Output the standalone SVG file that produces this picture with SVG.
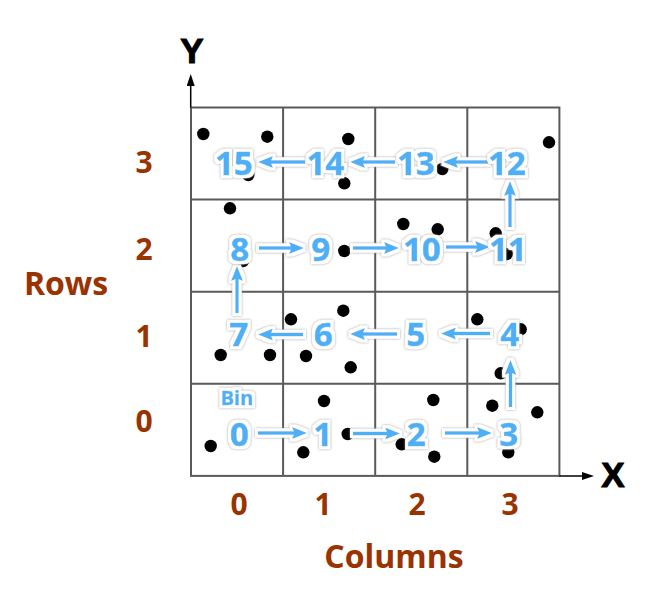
<svg xmlns="http://www.w3.org/2000/svg" width="671" height="603" viewBox="0 0 671 603">
<style>
.grid{stroke:#5a5a5a;stroke-width:2;fill:none}
.axis{stroke:#000;stroke-width:1.5;fill:none}
.dot{fill:#000}
.lbl{font-family:"Open Sans","Noto Sans",sans-serif;font-weight:bold;fill:#993300;text-anchor:middle}
.xy{font-family:"Liberation Sans",Arial,sans-serif;font-weight:bold;font-size:35px;fill:#000;stroke:#000;stroke-width:1;text-anchor:middle}
.num{font-family:"Open Sans","Noto Sans",sans-serif;font-weight:bold;font-size:33px;fill:#4db0f6;stroke:#4db0f6;stroke-width:0.6;text-anchor:middle}
.arrow{stroke:#4db0f6;stroke-width:3.4;fill:none}
</style>
<defs>
<filter id="halo" x="-30%" y="-30%" width="160%" height="160%">
<feMorphology in="SourceAlpha" operator="dilate" radius="2.5" result="d"/>
<feFlood flood-color="#ffffff" result="wf"/>
<feComposite in="wf" in2="d" operator="in" result="white"/>
<feMorphology in="SourceAlpha" operator="dilate" radius="3.2" result="d2"/>
<feGaussianBlur in="d2" stdDeviation="0.9" result="db"/>
<feFlood flood-color="#9a9a9a" result="gf"/>
<feComposite in="gf" in2="db" operator="in" result="shadow"/>
<feMerge><feMergeNode in="shadow"/><feMergeNode in="white"/><feMergeNode in="SourceGraphic"/></feMerge>
</filter>
<marker id="ah" markerUnits="userSpaceOnUse" viewBox="0 0 15 12" markerWidth="15" markerHeight="12" refX="4" refY="6" orient="auto">
<path d="M0,0 L15,6 L0,12 L2.5,6 Z" fill="#4db0f6"/>
</marker>
<marker id="axh" markerUnits="userSpaceOnUse" viewBox="0 0 12 8" markerWidth="12" markerHeight="8" refX="2" refY="4" orient="auto">
<path d="M0,0 L12,4 L0,8 Z" fill="#000"/>
</marker>
</defs>

<g id="grid">
<rect class="grid" x="191" y="107.5" width="368.4" height="368.4"/>
<path class="grid" d="M283.1,107.5 V475.9 M375.2,107.5 V475.9 M467.3,107.5 V475.9 M191,199.6 H559.4 M191,291.7 H559.4 M191,383.8 H559.4"/>
</g>

<g id="axes">
<path class="axis" d="M190.7,107.5 V84" marker-end="url(#axh)"/>
<path class="axis" d="M559.4,476 H584" marker-end="url(#axh)"/>
<text class="xy" x="192" y="63">Y</text>
<text class="xy" x="613" y="487">X</text>
</g>

<g id="axis-labels">
<text class="lbl" font-size="32" x="66" y="295">Rows</text>
<text class="lbl" font-size="32" x="394" y="568">Columns</text>
<text class="lbl" font-size="30" x="144" y="173">3</text>
<text class="lbl" font-size="30" x="144" y="260">2</text>
<text class="lbl" font-size="30" x="144" y="347">1</text>
<text class="lbl" font-size="30" x="144" y="432">0</text>
<text class="lbl" font-size="30" x="239" y="515">0</text>
<text class="lbl" font-size="30" x="323" y="515">1</text>
<text class="lbl" font-size="30" x="417" y="515">2</text>
<text class="lbl" font-size="30" x="510" y="515">3</text>
</g>

<g id="points">
<circle class="dot" cx="203.3" cy="134" r="6.2"/>
<circle class="dot" cx="267.3" cy="136.7" r="6.2"/>
<circle class="dot" cx="348.3" cy="139" r="6.2"/>
<circle class="dot" cx="248.3" cy="175" r="6.2"/>
<circle class="dot" cx="344.3" cy="183.3" r="6.2"/>
<circle class="dot" cx="442.3" cy="169" r="6.2"/>
<circle class="dot" cx="549" cy="142.3" r="6.2"/>
<circle class="dot" cx="230" cy="208.3" r="6.2"/>
<circle class="dot" cx="403.3" cy="224" r="6.2"/>
<circle class="dot" cx="437.7" cy="229.3" r="6.2"/>
<circle class="dot" cx="495.7" cy="233.3" r="6.2"/>
<circle class="dot" cx="506.7" cy="254" r="6.2"/>
<circle class="dot" cx="344.3" cy="251" r="6.2"/>
<circle class="dot" cx="243" cy="261" r="6.2"/>
<circle class="dot" cx="291" cy="319.3" r="6.2"/>
<circle class="dot" cx="343.3" cy="310.7" r="6.2"/>
<circle class="dot" cx="220.7" cy="355" r="6.2"/>
<circle class="dot" cx="270" cy="355" r="6.2"/>
<circle class="dot" cx="306" cy="356" r="6.2"/>
<circle class="dot" cx="350.7" cy="367.3" r="6.2"/>
<circle class="dot" cx="477.3" cy="319.3" r="6.2"/>
<circle class="dot" cx="520.7" cy="329.3" r="6.2"/>
<circle class="dot" cx="500.7" cy="373.3" r="6.2"/>
<circle class="dot" cx="324" cy="401" r="6.2"/>
<circle class="dot" cx="210.7" cy="446" r="6.2"/>
<circle class="dot" cx="303.3" cy="452.3" r="6.2"/>
<circle class="dot" cx="347.7" cy="434" r="6.2"/>
<circle class="dot" cx="433.3" cy="400" r="6.2"/>
<circle class="dot" cx="492.3" cy="405.7" r="6.2"/>
<circle class="dot" cx="537.3" cy="412.3" r="6.2"/>
<circle class="dot" cx="401.7" cy="444.3" r="6.2"/>
<circle class="dot" cx="434.3" cy="456.7" r="6.2"/>
<circle class="dot" cx="508.3" cy="452.3" r="6.2"/>
</g>

<g id="connectors" filter="url(#halo)">
<path class="arrow" d="M258,433 H296" marker-end="url(#ah)"/>
<path class="arrow" d="M353,433.5 H389" marker-end="url(#ah)"/>
<path class="arrow" d="M445,433 H481" marker-end="url(#ah)"/>
<path class="arrow" d="M510.5,407 V371" marker-end="url(#ah)"/>
<path class="arrow" d="M490,333.5 H452" marker-end="url(#ah)"/>
<path class="arrow" d="M397,334 H361" marker-end="url(#ah)"/>
<path class="arrow" d="M303,334.5 H269" marker-end="url(#ah)"/>
<path class="arrow" d="M237,313 V277" marker-end="url(#ah)"/>
<path class="arrow" d="M259,248 H293" marker-end="url(#ah)"/>
<path class="arrow" d="M353,248 H388" marker-end="url(#ah)"/>
<path class="arrow" d="M446,247 H479" marker-end="url(#ah)"/>
<path class="arrow" d="M510,227 V192" marker-end="url(#ah)"/>
<path class="arrow" d="M488,162 H454" marker-end="url(#ah)"/>
<path class="arrow" d="M395,162 H361" marker-end="url(#ah)"/>
<path class="arrow" d="M305,162 H269" marker-end="url(#ah)"/>
</g>

<g id="bins" filter="url(#halo)">
<g id="bin-label"><text class="num" x="237" y="405" style="font-size:20px;stroke-width:0.4">Bin</text></g>
<g id="bin0"><text class="num" x="239.5" y="445.5">0</text></g>
<g id="bin1"><text class="num" x="323" y="445.5">1</text></g>
<g id="bin2"><text class="num" x="416.5" y="445.5">2</text></g>
<g id="bin3"><text class="num" x="509" y="445.5">3</text></g>
<g id="bin4"><text class="num" x="510" y="345.5">4</text></g>
<g id="bin5"><text class="num" x="416" y="345.5">5</text></g>
<g id="bin6"><text class="num" x="323.5" y="345.5">6</text></g>
<g id="bin7"><text class="num" x="239" y="345.5">7</text></g>
<g id="bin8"><text class="num" x="240" y="261">8</text></g>
<g id="bin9"><text class="num" x="321" y="261">9</text></g>
<g id="bin10"><text class="num" x="422" y="261">10</text></g>
<g id="bin11"><text class="num" x="508" y="261">11</text></g>
<g id="bin12"><text class="num" x="507" y="175">12</text></g>
<g id="bin13"><text class="num" x="416" y="175">13</text></g>
<g id="bin14"><text class="num" x="325.5" y="175">14</text></g>
<g id="bin15"><text class="num" x="234" y="175">15</text></g>
</g>
</svg>
